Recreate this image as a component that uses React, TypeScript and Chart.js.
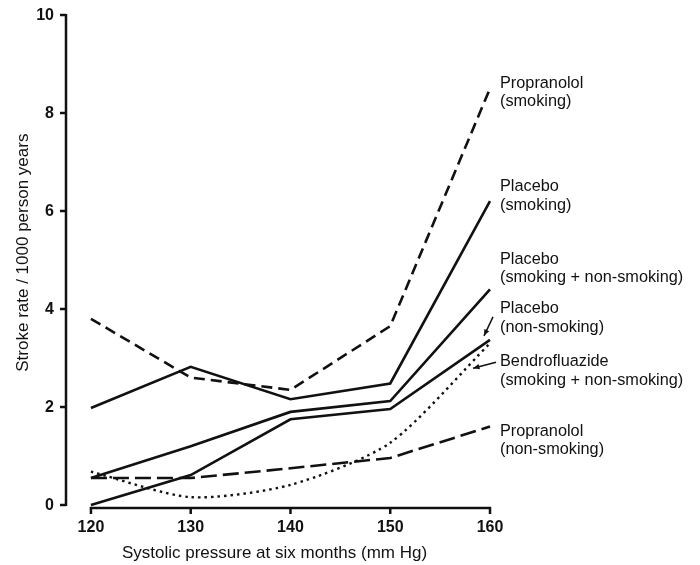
import { useEffect, useRef } from "react";
import { Chart, registerables } from "chart.js";

Chart.register(...registerables);

// Systolic pressure at six months (mm Hg)
const pressures = [120, 130, 140, 150, 160];

// Stroke rate / 1000 person years
const propranololSmoking = [3.8, 2.6, 2.35, 3.65, 8.5];
const placeboSmoking = [1.98, 2.82, 2.16, 2.48, 6.2];
const placeboAll = [0.55, 1.2, 1.9, 2.12, 4.4];
const placeboNonSmoking = [0, 0.61, 1.75, 1.96, 3.37];
const bendrofluazideAll = [0.68, 0.16, 0.41, 1.27, 3.3];
const propranololNonSmoking = [0.55, 0.55, 0.75, 0.96, 1.6];

const xTickValues = [120, 130, 140, 150, 160];
const yTickValues = [0, 2, 4, 6, 8, 10];

const seriesLabels = [
  ["Propranolol", "(smoking)"],
  ["Placebo", "(smoking)"],
  ["Placebo", "(smoking + non-smoking)"],
  ["Placebo", "(non-smoking)"],
  ["Bendrofluazide", "(smoking + non-smoking)"],
  ["Propranolol", "(non-smoking)"],
];
// vertical position (in stroke-rate units) of each label's first line
const labelAnchors = [8.61, 6.49, 5.02, 4.0, 2.92, 1.51];

const xTitle = "Systolic pressure at six months (mm Hg)";
const yTitle = "Stroke rate / 1000 person years";

const INK = "#111";

function toPoints(values: number[]) {
  return pressures.map((p, i) => ({ x: p, y: values[i] }));
}

const decorPlugin = {
  id: "decor",
  afterDraw(chart: any) {
    const ctx = chart.ctx as CanvasRenderingContext2D;
    const xs = chart.scales.x;
    const ys = chart.scales.y;
    const area = chart.chartArea;
    ctx.save();
    ctx.strokeStyle = INK;
    ctx.fillStyle = INK;
    ctx.lineWidth = 2.5;
    ctx.lineCap = "butt";

    // y axis
    const yAxisX = area.left;
    ctx.beginPath();
    ctx.moveTo(yAxisX, ys.getPixelForValue(10) - 1);
    ctx.lineTo(yAxisX, ys.getPixelForValue(0) + 1);
    ctx.stroke();
    ctx.font = "bold 16px 'Liberation Sans', Arial, sans-serif";
    ctx.textAlign = "right";
    ctx.textBaseline = "middle";
    yTickValues.forEach((v) => {
      const py = ys.getPixelForValue(v);
      ctx.beginPath();
      ctx.moveTo(yAxisX - 6, py);
      ctx.lineTo(yAxisX, py);
      ctx.stroke();
      ctx.fillText(String(v), yAxisX - 12, py + 1);
    });

    // x axis
    const xAxisY = ys.getPixelForValue(0) + 3;
    ctx.beginPath();
    ctx.moveTo(xs.getPixelForValue(120) - 1, xAxisY);
    ctx.lineTo(xs.getPixelForValue(160) + 1, xAxisY);
    ctx.stroke();
    ctx.textAlign = "center";
    ctx.textBaseline = "middle";
    xTickValues.forEach((v) => {
      const px = xs.getPixelForValue(v);
      ctx.beginPath();
      ctx.moveTo(px, xAxisY - 1);
      ctx.lineTo(px, xAxisY + 6);
      ctx.stroke();
      ctx.fillText(String(v), px, xAxisY + 20);
    });

    // axis titles
    ctx.font = "17px 'Liberation Sans', Arial, sans-serif";
    ctx.textAlign = "center";
    ctx.fillText(xTitle, xs.getPixelForValue(138.4), xAxisY + 45);
    ctx.save();
    ctx.translate(23, ys.getPixelForValue(5.15));
    ctx.rotate(-Math.PI / 2);
    ctx.fillText(yTitle, 0, 0);
    ctx.restore();

    // series labels
    ctx.font = "16.3px 'Liberation Sans', Arial, sans-serif";
    ctx.textAlign = "left";
    ctx.textBaseline = "middle";
    const labelX = xs.getPixelForValue(160) + 10;
    seriesLabels.forEach((lines, i) => {
      const py = ys.getPixelForValue(labelAnchors[i]);
      lines.forEach((t, j) => ctx.fillText(t, labelX, py + j * 18.5));
    });

    // arrows
    const drawArrow = (x1: number, y1: number, x2: number, y2: number) => {
      ctx.lineWidth = 1.5;
      ctx.beginPath();
      ctx.moveTo(x1, y1);
      ctx.lineTo(x2, y2);
      ctx.stroke();
      const ang = Math.atan2(y2 - y1, x2 - x1);
      const L = 7;
      ctx.beginPath();
      ctx.moveTo(x2, y2);
      ctx.lineTo(x2 - L * Math.cos(ang - 0.4), y2 - L * Math.sin(ang - 0.4));
      ctx.lineTo(x2 - L * Math.cos(ang + 0.4), y2 - L * Math.sin(ang + 0.4));
      ctx.closePath();
      ctx.fill();
    };
    const endX = xs.getPixelForValue(160);
    const pnY = ys.getPixelForValue(placeboNonSmoking[4]);
    drawArrow(endX + 3, pnY - 23, endX - 6, pnY - 4);
    const bY = ys.getPixelForValue(bendrofluazideAll[4]);
    drawArrow(endX + 6, bY + 19, endX - 17, bY + 25);

    ctx.restore();
  },
};

export default function App() {
  const ref = useRef<HTMLCanvasElement | null>(null);
  useEffect(() => {
    if (!ref.current) return;
    const base = {
      borderColor: INK,
      borderWidth: 2.6,
      pointRadius: 0,
      fill: false,
      clip: false as any,
    };
    const chart = new Chart(ref.current, {
      type: "line",
      data: {
        datasets: [
          { ...base, label: "Propranolol (smoking)", data: toPoints(propranololSmoking), borderDash: [11, 6] },
          { ...base, label: "Placebo (smoking)", data: toPoints(placeboSmoking) },
          { ...base, label: "Placebo (smoking + non-smoking)", data: toPoints(placeboAll) },
          { ...base, label: "Placebo (non-smoking)", data: toPoints(placeboNonSmoking) },
          {
            ...base,
            label: "Bendrofluazide (smoking + non-smoking)",
            data: toPoints(bendrofluazideAll),
            borderDash: [2.5, 4],
            borderWidth: 2.4,
            tension: 0.25,
          },
          { ...base, label: "Propranolol (non-smoking)", data: toPoints(propranololNonSmoking), borderDash: [16, 6] },
        ],
      },
      options: {
        animation: false,
        responsive: false,
        layout: { padding: { left: 66, right: 210, top: 15, bottom: 60 } },
        plugins: { legend: { display: false }, tooltip: { enabled: false } },
        scales: {
          x: { type: "linear", min: 117.5, max: 160, display: false },
          y: { type: "linear", min: 0, max: 10, display: false },
        },
      },
      plugins: [decorPlugin],
    });
    return () => chart.destroy();
  }, []);
  return (
    <div style={{ position: "absolute", left: 0, top: 0, width: 700, height: 565, background: "#fff" }}>
      <canvas ref={ref} width={700} height={565} style={{ width: 700, height: 565 }} />
    </div>
  );
}
